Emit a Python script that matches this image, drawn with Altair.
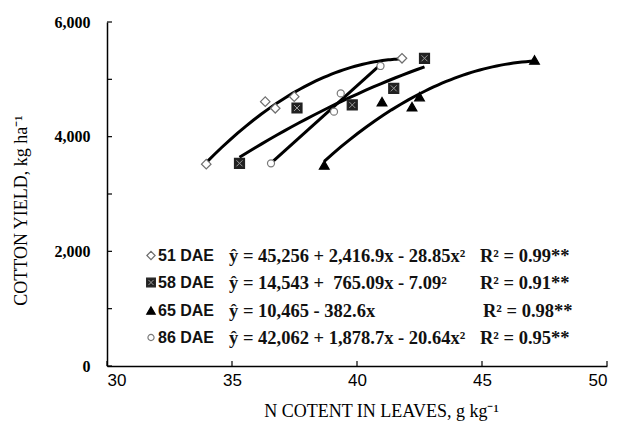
import altair as alt
import pandas as pd

# ---- data ----
series_names = ["51 DAE", "58 DAE", "65 DAE", "86 DAE"]

n_51 = [33.97, 36.33, 36.73, 37.49, 41.80]
y_51 = [3520, 4610, 4495, 4698, 5367]

n_58 = [35.30, 37.60, 39.81, 41.47, 42.70]
y_58 = [3535, 4500, 4553, 4843, 5367]

n_65 = [38.69, 41.00, 42.20, 42.50, 47.10]
y_65 = [3506, 4610, 4523, 4698, 5337]

n_86 = [36.56, 39.08, 39.35, 40.94]
y_86 = [3535, 4436, 4755, 5233]

equations = [
    "ŷ = 45,256 + 2,416.9x - 28.85x²",
    "ŷ = 14,543 + \u00a0765.09x - 7.09²",
    "ŷ = 10,465 - 382.6x",
    "ŷ = 42,062 + 1,878.7x - 20.64x²",
]
r2_texts = ["R² = 0.99**", "R² = 0.91**", "R² = 0.98**", "R² = 0.95**"]

x_tick_values = [30, 35, 40, 45, 50]
y_tick_values = [0, 1000, 2000, 3000, 4000, 5000, 6000]
y_label_values = [0, 2000, 4000, 6000]

# ---- build table ----
rows = []
for name, ns, ys in zip(series_names, [n_51, n_58, n_65, n_86], [y_51, y_58, y_65, y_86]):
    for a, b in zip(ns, ys):
        rows.append({"series": name, "n": a, "yield": b})
df = pd.DataFrame(rows)

# ---- styles ----
shapes = ["diamond", "square", "triangle-up", "circle"]
fills = ["white", "#222222", "black", "white"]
strokes = ["#6e6e6e", "#222222", "black", "#7a7a7a"]
sizes = [90, 100, 95, 50]
XPATH = "M-0.6,-0.6L0.6,0.6M-0.6,0.6L0.6,-0.6"

W, H = 500, 344
xscale = alt.Scale(domain=[30, 50], nice=False, zero=False)
yscale = alt.Scale(domain=[0, 6000], nice=False, zero=False)

x_axis = alt.Axis(values=x_tick_values, tickSize=0, labelPadding=6,
                  labelFont="Liberation Sans", labelFontSize=17, labelColor="black",
                  domainColor="black", domainWidth=1.5, grid=False,
                  title="N COTENT IN LEAVES, g kg⁻¹", titleFont="Liberation Serif",
                  titleFontWeight="normal", titleFontSize=18, titleColor="black",
                  titleX=274, titleY=50, titleBaseline="alphabetic")
y_axis = alt.Axis(values=y_label_values, labelExpr="format(datum.value, ',')",
                  tickSize=0, labelPadding=17,
                  labelFont="Liberation Serif", labelFontWeight="bold", labelFontSize=16,
                  labelColor="black", domainColor="black", domainWidth=1.5, grid=False,
                  title="COTTON YIELD, kg ha⁻¹", titleFont="Liberation Serif",
                  titleFontWeight="normal", titleFontSize=18, titleColor="black",
                  titleX=-86, titleY=188, titleBaseline="middle", titleAlign="center")

base = alt.Chart(df)
X = alt.X("n:Q", scale=xscale, axis=x_axis)
Y = alt.Y("yield:Q", scale=yscale, axis=y_axis)

# trend curves: quadratic fits for 51, 58, 65 DAE; straight for 86 DAE
curves = base.transform_filter(alt.datum.series != "86 DAE").transform_regression(
    "n", "yield", method="poly", order=2, groupby=["series"]
).mark_line(color="black", strokeWidth=3).encode(x=X, y=Y, detail="series:N")
curve86 = base.transform_filter(alt.datum.series == "86 DAE").transform_regression(
    "n", "yield", method="linear"
).mark_line(color="black", strokeWidth=3).encode(x=X, y=Y)

point_layers = []
for i, name in enumerate(series_names):
    point_layers.append(
        base.transform_filter(alt.datum.series == name).mark_point(
            shape=shapes[i], size=sizes[i], fill=fills[i], stroke=strokes[i],
            filled=True, strokeWidth=1.2, opacity=1
        ).encode(x=X, y=Y)
    )
crosses = base.transform_filter(alt.datum.series == "58 DAE").mark_point(
    shape=XPATH, size=100, stroke="#9a9a9a", strokeWidth=1, filled=False, opacity=1
).encode(x=X, y=Y)

ytick_df = pd.DataFrame({"yield": y_tick_values})
xtick_df = pd.DataFrame({"n": x_tick_values})
yticks = alt.Chart(ytick_df).mark_rule(color="black", strokeWidth=1.2).encode(
    y=Y, x=alt.value(0), x2=alt.value(5))
xticks = alt.Chart(xtick_df).mark_rule(color="black", strokeWidth=1.2).encode(
    x=X, y=alt.value(H), y2=alt.value(H - 5))

# ---- legend block (annotation layout in pixels) ----
row_y = [233.5, 260.5, 288.5, 315.5]
legend_layers = []
for i in range(4):
    legend_layers.append(
        alt.Chart(pd.DataFrame({"s": [series_names[i]]})).mark_point(
            shape=shapes[i], size=sizes[i] * 0.75, fill=fills[i], stroke=strokes[i],
            filled=True, strokeWidth=1.2, opacity=1
        ).encode(x=alt.value(44), y=alt.value(row_y[i]))
    )
    if i == 1:
        legend_layers.append(
            alt.Chart(pd.DataFrame({"s": [series_names[i]]})).mark_point(
                shape=XPATH, size=75, stroke="#9a9a9a", strokeWidth=1, filled=False, opacity=1
            ).encode(x=alt.value(44), y=alt.value(row_y[i]))
        )
    legend_layers.append(
        alt.Chart(pd.DataFrame({"t": [series_names[i]]})).mark_text(
            align="left", baseline="middle", font="Liberation Sans", fontWeight="bold",
            fontSize=16, color="#111111"
        ).encode(text="t:N", x=alt.value(51), y=alt.value(row_y[i]))
    )
    legend_layers.append(
        alt.Chart(pd.DataFrame({"t": [equations[i]]})).mark_text(
            align="left", baseline="middle", font="Liberation Serif", fontWeight="bold",
            fontSize=18.5, color="#111111"
        ).encode(text="t:N", x=alt.value(122), y=alt.value(row_y[i]))
    )
    legend_layers.append(
        alt.Chart(pd.DataFrame({"t": [r2_texts[i]]})).mark_text(
            align="left", baseline="middle", font="Liberation Serif", fontWeight="bold",
            fontSize=18.5, color="#111111"
        ).encode(text="t:N", x=alt.value(376 if i == 2 else 373), y=alt.value(row_y[i]))
    )

chart = alt.layer(curves, curve86, *point_layers, crosses, yticks, xticks, *legend_layers).properties(
    width=W, height=H,
    autosize=alt.AutoSizeParams(type="none"),
    padding={"left": 107, "top": 22, "right": 12, "bottom": 72},
    background="white",
).configure_view(stroke=None)

chart.save("out.html", embed_options={"renderer": "svg", "actions": False})
